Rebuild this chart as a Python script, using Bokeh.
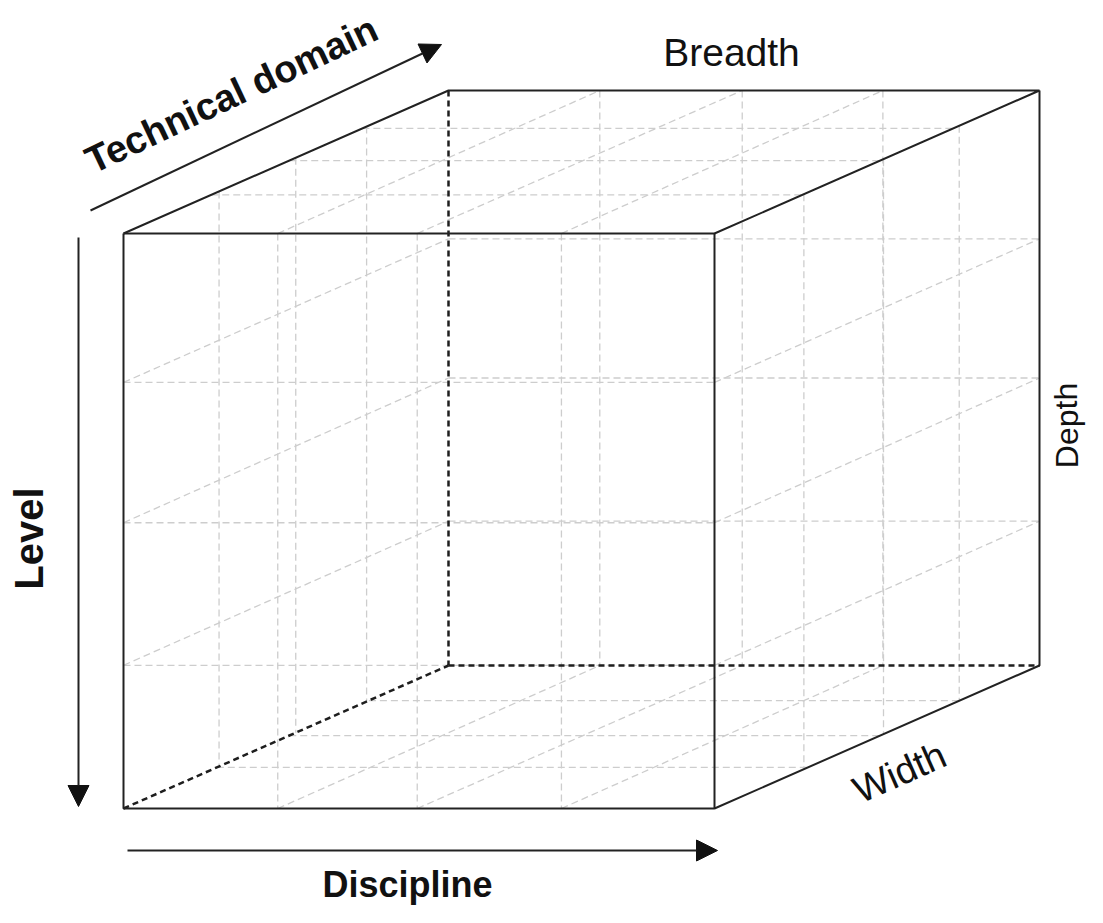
from bokeh.plotting import figure
from bokeh.models import Range1d, Arrow, NormalHead
from bokeh.core.properties import value
from bokeh.embed import file_html
from bokeh.resources import INLINE
import math

# ---- data (fractions of the cube's edges) ----
front_xf = [0.261, 0.497, 0.741]      # verticals on front face (breadth)
back_xf = [0.256, 0.497, 0.735]       # verticals on back face (breadth)
left_zf = [0.294, 0.530, 0.748]       # verticals on left face
right_zf = [0.275, 0.520, 0.753]      # verticals on right face
front_levels = [0.259, 0.503, 0.751]  # horizontal levels on front face
back_levels = [0.258, 0.500, 0.749]   # horizontal levels on back face
top_zf = [0.270, 0.510, 0.735]        # lines along breadth on top face
bottom_zf = [0.287, 0.510, 0.755]     # lines along breadth on bottom face

axis_labels = ["Technical domain", "Level", "Discipline"]
dim_labels = ["Breadth", "Depth", "Width"]

# ---- cube projection (oblique) ----
OX, OY = 123.0, 233.0
W, H = 591.0, 575.0
DX, DY = 325.0, -143.0


def P(x, y, z):
    return (OX + W * x + DX * z, OY + H * y + DY * z)


grid = []
for f in front_xf:
    grid.append((P(f, 0, 0), P(f, 1, 0)))
for l in front_levels:
    grid.append((P(0, l, 0), P(1, l, 0)))
for f in back_xf:
    grid.append((P(f, 0, 1), P(f, 1, 1)))
for l in back_levels:
    grid.append((P(0, l, 1), P(1, l, 1)))
for z in left_zf:
    grid.append((P(0, 0, z), P(0, 1, z)))
for z in right_zf:
    grid.append((P(1, 0, z), P(1, 1, z)))
for lf, lb in zip(front_levels, back_levels):
    grid.append((P(0, lf, 0), P(0, lb, 1)))
    grid.append((P(1, lf, 0), P(1, lb, 1)))
for z in top_zf:
    grid.append((P(0, 0, z), P(1, 0, z)))
for z in bottom_zf:
    grid.append((P(0, 1, z), P(1, 1, z)))
for ff, fb in zip(front_xf, back_xf):
    grid.append((P(ff, 0, 0), P(fb, 0, 1)))
    grid.append((P(ff, 1, 0), P(fb, 1, 1)))

hidden = [
    (P(0, 0, 1), P(0, 1, 1)),
    (P(0, 1, 1), P(1, 1, 1)),
    (P(0, 1, 0), P(0, 1, 1)),
]
solid_paths = [
    [P(0, 0, 0), P(1, 0, 0), P(1, 1, 0), P(0, 1, 0), P(0, 0, 0)],
    [P(0, 0, 0), P(0, 0, 1), P(1, 0, 1), P(1, 0, 0)],
    [P(1, 0, 1), P(1, 1, 1), P(1, 1, 0)],
]

p = figure(width=1087, height=907, x_range=Range1d(0, 1087), y_range=Range1d(907, 0),
           output_backend="svg", toolbar_location=None, min_border=0)
p.axis.visible = False
p.grid.visible = False
p.outline_line_color = None
p.background_fill_color = "white"
p.border_fill_color = "white"

p.segment(x0=[s[0][0] for s in grid], y0=[s[0][1] for s in grid],
          x1=[s[1][0] for s in grid], y1=[s[1][1] for s in grid],
          line_color="#cdcdcd", line_width=1.3, line_dash="7 4")
p.segment(x0=[s[0][0] for s in hidden], y0=[s[0][1] for s in hidden],
          x1=[s[1][0] for s in hidden], y1=[s[1][1] for s in hidden],
          line_color="#1e1e1e", line_width=2.5, line_dash="6 4")
p.multi_line(xs=[[q[0] for q in path] for path in solid_paths],
             ys=[[q[1] for q in path] for path in solid_paths],
             line_color="#222222", line_width=2)


def head():
    return NormalHead(size=21, fill_color="#111111", line_color="#111111", line_width=1)


p.add_layout(Arrow(end=head(), x_start=90, y_start=210, x_end=441, y_end=44,
                   line_color="#222222", line_width=2))
p.add_layout(Arrow(end=head(), x_start=78, y_start=237, x_end=78, y_end=806,
                   line_color="#222222", line_width=2))
p.add_layout(Arrow(end=head(), x_start=127, y_start=850, x_end=717, y_end=850,
                   line_color="#222222", line_width=2))

font = value("Liberation Sans")
tilt = math.atan2(166, 351)
edge_tilt = math.atan2(144, 324)

p.text(x=[231], y=[94], text=[axis_labels[0]], angle=[tilt], text_font=font,
       text_font_size="38px", text_font_style="bold", text_align="center",
       text_baseline="middle", text_color="#111111")
p.text(x=[28], y=[538], text=[axis_labels[1]], angle=[math.pi / 2], text_font=font,
       text_font_size="40px", text_font_style="bold", text_align="center",
       text_baseline="middle", text_color="#111111")
p.text(x=[407], y=[884], text=[axis_labels[2]], text_font=font,
       text_font_size="36px", text_font_style="bold", text_align="center",
       text_baseline="middle", text_color="#111111")

p.text(x=[731], y=[52], text=[dim_labels[0]], text_font=font,
       text_font_size="39px", text_align="center", text_baseline="middle",
       text_color="#111111")
p.text(x=[1066], y=[425], text=[dim_labels[1]], angle=[math.pi / 2], text_font=font,
       text_font_size="32px", text_align="center", text_baseline="middle",
       text_color="#111111")
p.text(x=[899], y=[772], text=[dim_labels[2]], angle=[edge_tilt], text_font=font,
       text_font_size="38px", text_align="center", text_baseline="middle",
       text_color="#111111")

open("out.html", "w").write(file_html(p, INLINE))
